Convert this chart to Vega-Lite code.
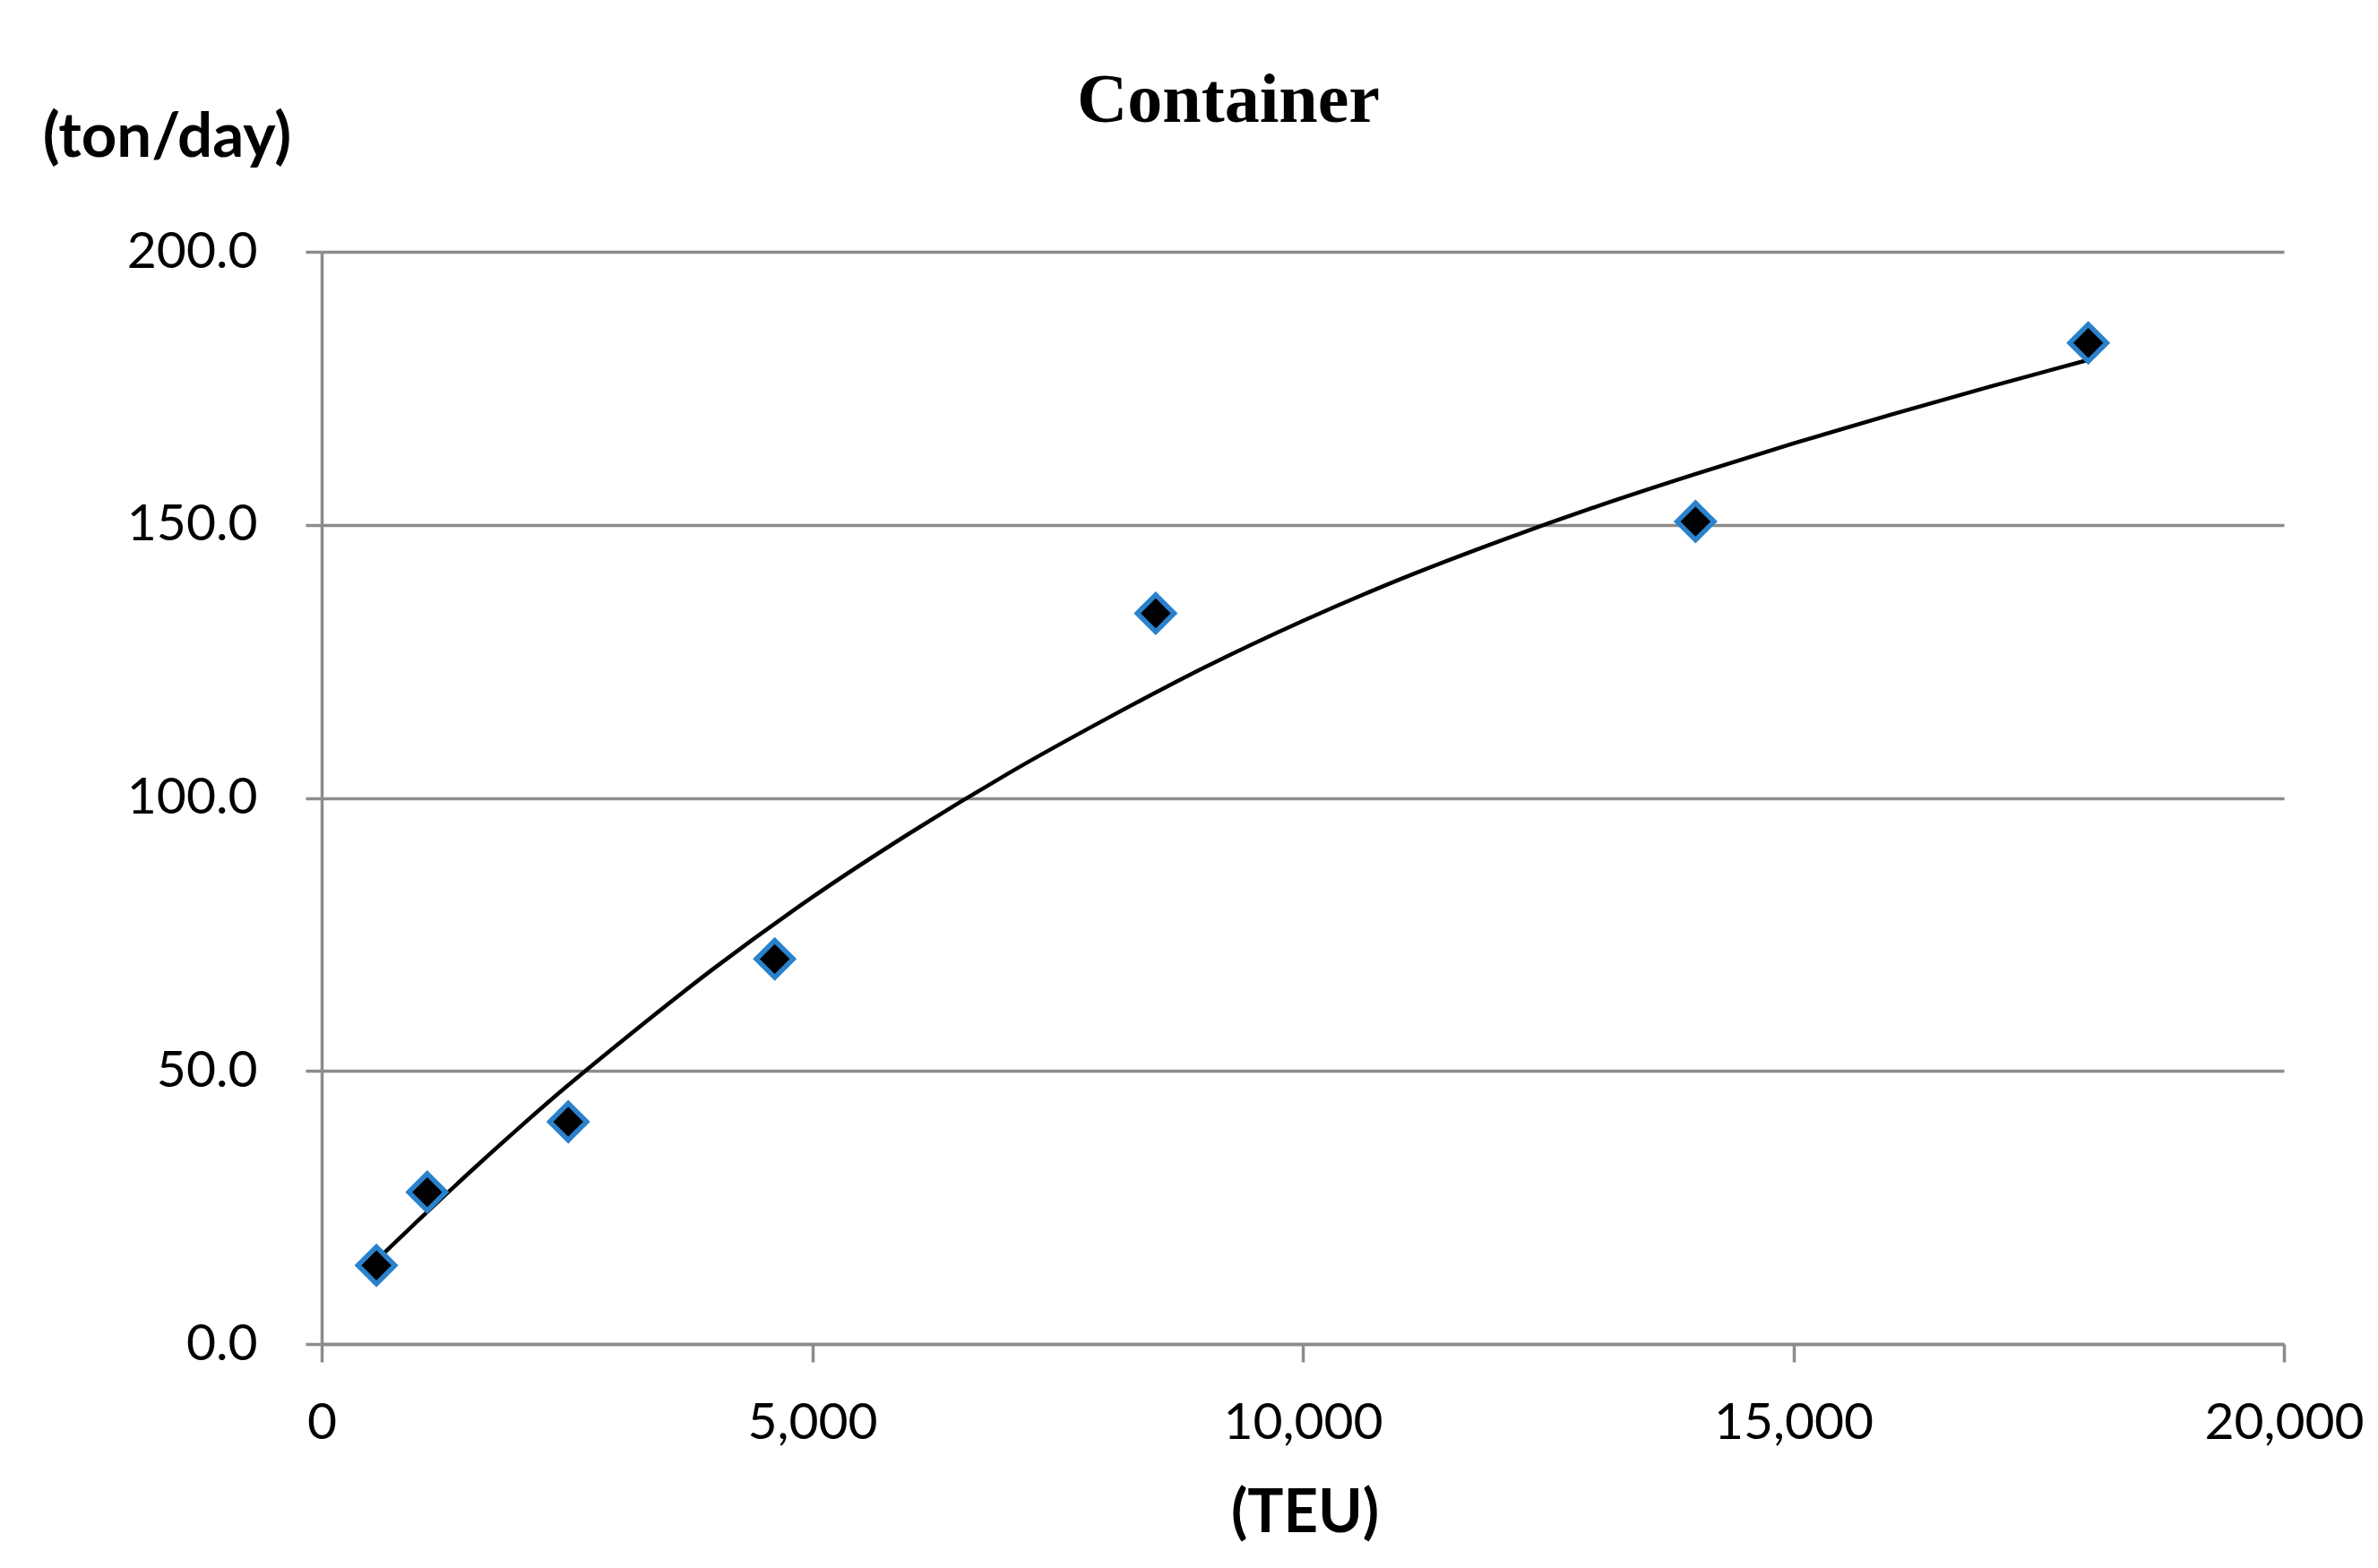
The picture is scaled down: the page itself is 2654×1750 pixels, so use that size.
{
  "$schema": "https://vega.github.io/schema/vega-lite/v6.json",
  "autosize": "none",
  "width": 2190,
  "height": 1219,
  "padding": {"left": 359, "top": 281, "right": 105, "bottom": 250},
  "background": "white",
  "title": {
    "text": "Container",
    "font": "Liberation Serif",
    "fontSize": 78,
    "fontWeight": "bold",
    "color": "black",
    "anchor": "middle",
    "frame": "group",
    "dx": -83,
    "baseline": "alphabetic",
    "offset": -95
  },
  "datasets": {
    "points": [
      {"TEU": 558, "tpd": 14.4},
      {"TEU": 1076, "tpd": 27.8},
      {"TEU": 2513, "tpd": 40.7},
      {"TEU": 4618, "tpd": 70.5},
      {"TEU": 8501, "tpd": 133.8},
      {"TEU": 14003, "tpd": 150.6},
      {"TEU": 18006, "tpd": 183.3}
    ],
    "trend": [
      {"TEU": 558, "tpd": 15.3},
      {"TEU": 1000, "tpd": 22.9},
      {"TEU": 1500, "tpd": 31.3},
      {"TEU": 2000, "tpd": 39.4},
      {"TEU": 2500, "tpd": 47.2},
      {"TEU": 3000, "tpd": 54.6},
      {"TEU": 4000, "tpd": 68.8},
      {"TEU": 5000, "tpd": 81.8},
      {"TEU": 6000, "tpd": 93.6},
      {"TEU": 7000, "tpd": 104.5},
      {"TEU": 8000, "tpd": 114.5},
      {"TEU": 9000, "tpd": 123.9},
      {"TEU": 10000, "tpd": 132.4},
      {"TEU": 11000, "tpd": 140.1},
      {"TEU": 12000, "tpd": 147.0},
      {"TEU": 13000, "tpd": 153.4},
      {"TEU": 14000, "tpd": 159.3},
      {"TEU": 15000, "tpd": 164.9},
      {"TEU": 16000, "tpd": 170.2},
      {"TEU": 17000, "tpd": 175.3},
      {"TEU": 18006, "tpd": 180.2}
    ]
  },
  "encoding": {
    "x": {
      "field": "TEU",
      "type": "quantitative",
      "scale": {"domain": [0, 20000], "nice": false, "zero": true},
      "axis": {
        "values": [0, 5000, 10000, 15000, 20000],
        "format": ",.0f",
        "grid": false,
        "domainColor": "#8c8c8c",
        "domainWidth": 3.5,
        "tickColor": "#8c8c8c",
        "tickWidth": 3.5,
        "tickSize": 20,
        "labelFont": "Lato",
        "labelFontSize": 57,
        "labelColor": "black",
        "labelPadding": 40,
        "labelBaseline": "top",
        "labelFlush": false,
        "title": "(TEU)",
        "titleFont": "Lato",
        "titleFontSize": 67,
        "titleFontWeight": "bold",
        "titleColor": "black",
        "titleX": 1097,
        "titleY": 189,
        "titleBaseline": "middle",
        "titleAlign": "center"
      }
    },
    "y": {
      "field": "tpd",
      "type": "quantitative",
      "scale": {"domain": [0, 200], "nice": false},
      "axis": {
        "values": [0, 50, 100, 150, 200],
        "format": ".1f",
        "grid": true,
        "gridColor": "#8c8c8c",
        "gridWidth": 3.5,
        "domainColor": "#8c8c8c",
        "domainWidth": 3.5,
        "tickColor": "#8c8c8c",
        "tickWidth": 3.5,
        "tickSize": 18,
        "labelFont": "Lato",
        "labelFontSize": 57,
        "labelColor": "black",
        "labelPadding": 54,
        "labelFlush": false,
        "title": "(ton/day)",
        "titleFont": "Lato",
        "titleFontSize": 69,
        "titleFontWeight": "bold",
        "titleColor": "black",
        "titleAngle": 0,
        "titleX": -173,
        "titleY": -128,
        "titleBaseline": "middle",
        "titleAlign": "center"
      }
    }
  },
  "layer": [
    {
      "data": {"name": "trend"},
      "mark": {"type": "line", "color": "black", "strokeWidth": 4.5, "interpolate": "monotone"}
    },
    {
      "data": {"name": "points"},
      "mark": {"type": "point", "shape": "diamond", "filled": true, "fill": "black", "stroke": "#2a82cc", "strokeWidth": 5.5, "size": 1700, "opacity": 1}
    }
  ],
  "config": {"view": {"stroke": null}}
}
